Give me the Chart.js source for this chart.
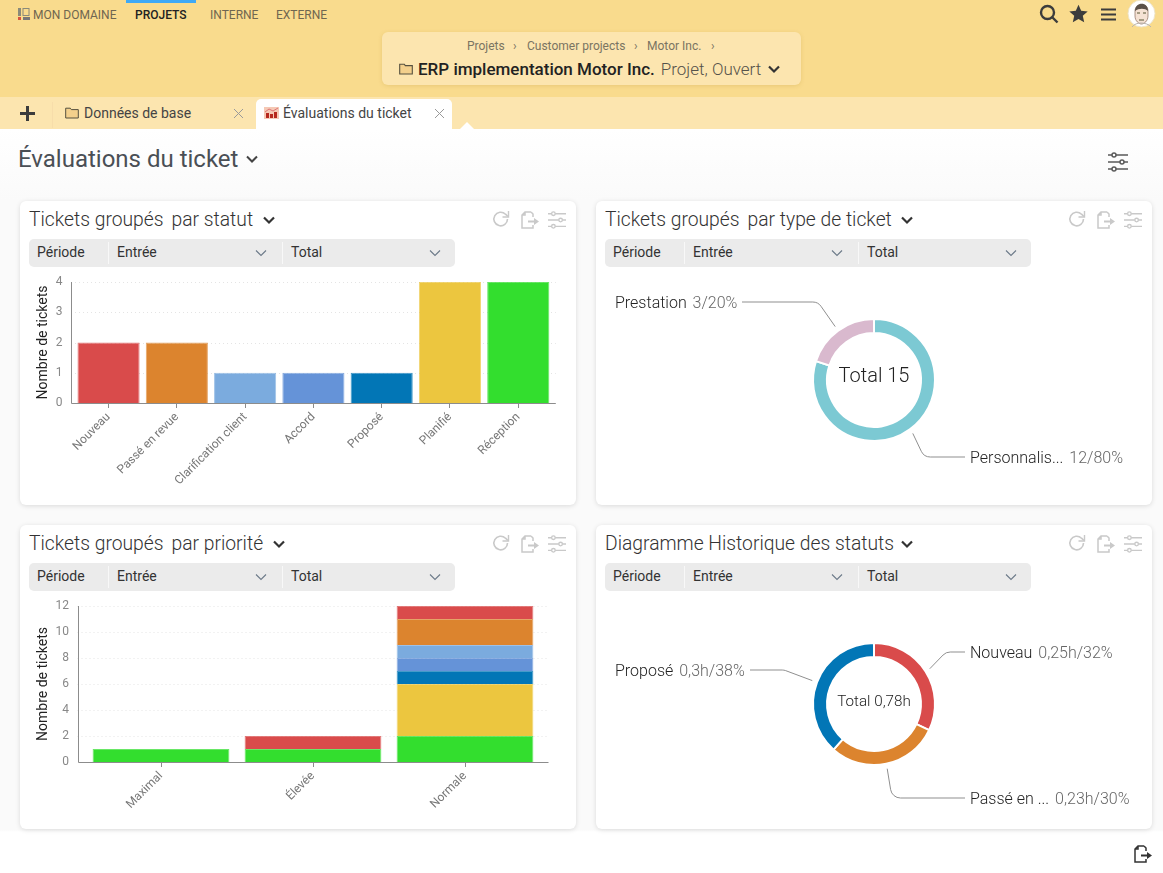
<!DOCTYPE html>
<html lang="fr">
<head>
<meta charset="utf-8">
<title>Évaluations du ticket</title>
<script src="https://cdn.jsdelivr.net/npm/chart.js@4"></script>
<style>
html,body{margin:0;padding:0;background:#fff;overflow:hidden}
#page{position:relative;width:1163px;height:873px;overflow:hidden;font-family:Roboto,sans-serif;color:#333;
  background:linear-gradient(#fff 129px,#fafafa 200px,#fafafa 830px,#fff 832px)}
#page div,#page span.abs,#page svg,#page canvas{position:absolute}
.top{left:0;top:0;width:1163px;height:97px;background:#f9db8d}
.tabs{left:0;top:97px;width:1163px;height:32px;background:#fce5af}
.nav{top:8px;font-size:12px;line-height:15px;color:#6f6650;white-space:nowrap}
.navbar{left:126px;top:0;width:70px;height:3px;background:#3fa9f5}
.crumbbox{left:382px;top:32px;width:419px;height:53px;background:#fce5af;border-radius:6px;box-shadow:0 1px 4px rgba(160,120,30,.18)}
.crumb{top:39px;font-size:12px;line-height:15px;color:#7a7462;white-space:nowrap}
.proj{left:418px;top:59px;font-size:17px;line-height:20px;font-weight:500;color:#222;white-space:nowrap}
.proj span{font-weight:300;font-size:17px;color:#55524a;margin-left:6px}
.tab{top:99px;height:30px;font-size:14px;line-height:28px;color:#444;white-space:nowrap}
.tabon{left:256px;top:99px;width:196px;height:30px;background:#fff;border-radius:5px 5px 0 0}
.head{left:18px;top:144px;font-size:24px;line-height:30px;color:#4a4f55;white-space:nowrap}
.card{width:556px;height:304px;background:#fff;border-radius:6px;box-shadow:0 1px 5px rgba(0,0,0,.13)}
.ctitle{left:9px;top:8px;font-size:19.3px;line-height:22px;font-weight:300;color:#333;white-space:nowrap}
.ctitle span{margin-left:8px}
.filter{left:9px;top:38px;width:426px;height:28px;background:#ebebeb;border-radius:5px}
.filter b{position:absolute;top:0;font-weight:400;font-size:14px;line-height:27px;color:#333}
.filter i{position:absolute;top:3px;width:1px;height:22px;background:#f8f8f8}
.call{font-size:16px;line-height:18px;color:#222;white-space:nowrap;font-weight:300}
.call span{color:#666;margin-left:2px}
.mid{transform:translate(-50%,-50%);color:#222;white-space:nowrap;font-weight:300}
</style>
</head>
<body>
<div id="page"></div>
<script>
// status chart
const statusLabels = ['Nouveau', 'Passé en revue', 'Clarification client', 'Accord', 'Proposé', 'Planifié', 'Réception'];
const statusCounts = [2, 2, 1, 1, 1, 4, 4];
const statusColors = ['#d94b4b', '#dc842e', '#7babde', '#6593d8', '#0276b6', '#ecc63f', '#33de2e'];

// ticket type donut
const typeLabels = ['Personnalis...', 'Prestation'];
const typeCounts = [12, 3];
const typeShares = [80, 20];
const typeColors = ['#7cc9d3', '#d9b9ce'];

// priority stack, one array per status
const priorityLabels = ['Maximal', 'Élevée', 'Normale'];
const prioNouveau = [0, 1, 1];
const prioRevue = [0, 0, 2];
const prioClarif = [0, 0, 1];
const prioAccord = [0, 0, 1];
const prioPropose = [0, 0, 1];
const prioPlanifie = [0, 0, 4];
const prioReception = [1, 1, 2];

// status history donut
const historyLabels = ['Nouveau', 'Passé en ...', 'Proposé'];
const historyHours = [0.25, 0.23, 0.3];
const historyShares = [32, 30, 38];
const historyColors = ['#d94b4b', '#dc842e', '#0276b6'];

const page = document.getElementById('page');
const ICON = '#c9c9c9';

function add(html) {
  page.insertAdjacentHTML('beforeend', html);
}
function chevron(x, y, color, w) {
  return `<svg style="left:${x}px;top:${y}px" width="14" height="9" viewBox="0 0 14 9"><path d="M2 1.5l5 5 5-5" fill="none" stroke="${color}" stroke-width="${w}"/></svg>`;
}
function sliders(x, y, color, s) {
  return `<svg style="left:${x}px;top:${y}px" width="${s}" height="${s}" viewBox="0 0 20 20" fill="none" stroke="${color}" stroke-width="1.5">
    <path d="M0 3h4M8 3h12M0 10h12M16 10h4M0 17h4M8 17h12"/><circle cx="6" cy="3" r="2"/><circle cx="14" cy="10" r="2"/><circle cx="6" cy="17" r="2"/></svg>`;
}
function exportIcon(x, y, color) {
  return `<svg style="left:${x}px;top:${y}px" width="20" height="18" viewBox="0 0 20 18" fill="none" stroke="${color}" stroke-width="1.5">
    <path d="M11 1H5L2 4v13h11v-3M2 4h3V1M11 1l2 2v3"/><path d="M8 9.5h6V7l5 3.5-5 3.5v-2.5H8z" fill="${color}" stroke="none"/></svg>`;
}

// page chrome
add(`<div class="top"></div><div class="tabs"></div><div class="navbar"></div>`);
add(`<svg style="left:18px;top:8px" width="12" height="13" viewBox="0 0 12 13"><rect x="0" y="0" width="3" height="8" fill="#8a8a7a"/><rect x="5" y="0.5" width="6" height="7" fill="none" stroke="#8a8a7a"/><rect x="0" y="9" width="3" height="3" fill="#d9533f"/><rect x="5" y="9" width="7" height="3" fill="#777"/></svg>`);
add(`<div class="nav" style="left:33px">MON DOMAINE</div>
<div class="nav" style="left:135px;color:#222;font-weight:500">PROJETS</div>
<div class="nav" style="left:210px">INTERNE</div>
<div class="nav" style="left:276px">EXTERNE</div>`);
add(`<svg style="left:1039px;top:4px" width="20" height="20" viewBox="0 0 20 20" fill="none" stroke="#3c3c3c" stroke-width="2.4"><circle cx="8.5" cy="8.5" r="6.5"/><path d="M13 13l5.5 5.5"/></svg>
<svg style="left:1069px;top:4px" width="19" height="19" viewBox="0 0 24 24"><path d="M12 1l3.4 7.6 8.2.8-6.2 5.5 1.8 8.1L12 18.8 4.8 23l1.8-8.1L.4 9.4l8.2-.8z" fill="#3c3c3c"/></svg>
<svg style="left:1101px;top:8px" width="15" height="13" viewBox="0 0 15 13"><path d="M0 1.5h15M0 6.5h15M0 11.5h15" stroke="#3c3c3c" stroke-width="2"/></svg>
<svg style="left:1127px;top:-1px" width="29" height="29" viewBox="0 0 29 29"><circle cx="14.5" cy="14.5" r="13.5" fill="#fff" stroke="#eee4c8"/><path d="M8 12c0-8 13-9 13 0v5c0 5-4 8-6.5 8S8 22 8 17z" fill="#f5e2d4" stroke="#8a6a5a" stroke-width=".7"/><path d="M8 12c0-9 13-10 13 0-3-3-9-3-13 0z" fill="#5a5048"/><path d="M10 14h3M16 14h3M12 21h5" stroke="#553" stroke-width="1"/><path d="M5 28c2-3 6-4 9-4s8 1 10 4" fill="none" stroke="#b9b4b0"/></svg>`);
add(`<div class="crumbbox"></div>
<div class="crumb" style="left:467px">Projets</div><div class="crumb" style="left:513px">›</div>
<div class="crumb" style="left:527px">Customer projects</div><div class="crumb" style="left:634px">›</div>
<div class="crumb" style="left:647px">Motor Inc.</div><div class="crumb" style="left:711px">›</div>
<svg style="left:399px;top:63px" width="14" height="12" viewBox="0 0 14 12"><path d="M.7 11V1.2h4.6l1 1.4h7V11z" fill="#f3d08c" stroke="#55503f" stroke-width="1.1"/></svg>
<div class="proj">ERP implementation Motor Inc.<span>Projet, Ouvert</span></div>` + chevron(767, 65, '#333', 2.2));
add(`<svg style="left:20px;top:106px" width="15" height="15" viewBox="0 0 15 15"><path d="M7.5 0v15M0 7.5h15" stroke="#3c3c3c" stroke-width="3"/></svg>
<div style="left:52px;top:102px;width:1px;height:26px;background:#f7ddaa"></div>
<svg style="left:65px;top:107px" width="14" height="12" viewBox="0 0 14 12"><path d="M.7 11V1.2h4.6l1 1.4h7V11z" fill="#f3d08c" stroke="#55503f"/></svg>
<div class="tab" style="left:84px">Données de base</div>
<svg style="left:233px;top:108px" width="11" height="11" viewBox="0 0 11 11"><path d="M1 1l9 9M10 1l-9 9" stroke="#999" stroke-width="1"/></svg>
<div class="tabon"></div>
<svg style="left:264px;top:107px" width="15" height="12" viewBox="0 0 15 12"><rect width="15" height="12" fill="#f5c9b5"/><rect x="2" y="6" width="3" height="5" fill="#b5281e"/><rect x="6" y="7" width="3" height="4" fill="#b5281e"/><rect x="10" y="5" width="3" height="6" fill="#b5281e"/><path d="M1 5l4-3 4 2 5-3" stroke="#d77" fill="none"/></svg>
<div class="tab" style="left:283px">Évaluations du ticket</div>
<svg style="left:434px;top:108px" width="11" height="11" viewBox="0 0 11 11"><path d="M1 1l9 9M10 1l-9 9" stroke="#999" stroke-width="1"/></svg>
<svg style="left:460px;top:122px" width="14" height="7" viewBox="0 0 14 7"><path d="M0 7l7-7 7 7z" fill="#fff"/></svg>
<div class="head">Évaluations du ticket</div>` + chevron(245, 155, '#444', 2) + sliders(1108, 152, '#5a5a5a', 20) + exportIcon(1133, 845, '#333'));

// four cards with header row and filter bar
const cards = [
  { x: 20, y: 201, t1: 'Tickets groupés', t2: 'par statut', chev: 242 },
  { x: 596, y: 201, t1: 'Tickets groupés', t2: 'par type de ticket', chev: 304 },
  { x: 20, y: 525, t1: 'Tickets groupés', t2: 'par priorité', chev: 252 },
  { x: 596, y: 525, t1: 'Diagramme Historique des statuts', t2: '', chev: 304 }
];
cards.forEach(c => {
  add(`<div class="card" style="left:${c.x}px;top:${c.y}px">
    <div class="ctitle">${c.t1}${c.t2 ? '<span>' + c.t2 + '</span>' : ''}</div>` +
    chevron(c.chev, 15, '#333', 2.2) +
    `<svg style="left:472px;top:9px" width="18" height="18" viewBox="0 0 18 18" fill="none" stroke="${ICON}" stroke-width="1.6"><path d="M15.5 9a6.8 6.8 0 1 1-2-4.8L16 6.5"/><path d="M16.5 1v6h-6" stroke-width="1.4"/></svg>` +
    exportIcon(500, 10, ICON) + sliders(528, 10, ICON, 18) +
    `<div class="filter"><b style="left:8px">Période</b><i style="left:79px"></i><b style="left:88px">Entrée</b>` +
    chevron(225, 10, '#6c7a89', 1.1) + `<i style="left:253px"></i><b style="left:262px">Total</b>` +
    chevron(399, 10, '#6c7a89', 1.1) + `</div></div>`);
});

function addCanvas(id, x, y, w, h) {
  add(`<canvas id="${id}" width="${w}" height="${h}" style="left:${x}px;top:${y}px;width:${w}px;height:${h}px"></canvas>`);
  return document.getElementById(id);
}

// the axes stick out a bit past the outer bars, so grid and axis lines are drawn here
const axisFrame = {
  id: 'axisFrame',
  beforeDatasetsDraw(chart, args, opts) {
    const { ctx, chartArea, scales } = chart;
    ctx.save();
    ctx.strokeStyle = '#e4e4e4';
    ctx.setLineDash([1, 3]);
    scales.y.ticks.forEach(t => {
      if (t.value === 0) return;
      const py = Math.round(scales.y.getPixelForValue(t.value)) + 0.5;
      ctx.beginPath();
      ctx.moveTo(chartArea.left - opts.extend, py);
      ctx.lineTo(chartArea.right + opts.extend, py);
      ctx.stroke();
    });
    ctx.restore();
  },
  afterDatasetsDraw(chart, args, opts) {
    const { ctx, chartArea } = chart;
    const x0 = Math.round(chartArea.left - opts.extend) + 0.5;
    ctx.save();
    ctx.strokeStyle = '#8c8c8c';
    ctx.beginPath();
    ctx.moveTo(x0, chartArea.top);
    ctx.lineTo(x0, chartArea.bottom + 0.5);
    ctx.lineTo(chartArea.right + opts.extend, chartArea.bottom + 0.5);
    ctx.stroke();
    ctx.restore();
  }
};

function barOptions(yMax, yStep, yWidth, xHeight, padRight, extend, tickPad) {
  return {
    responsive: false,
    animation: false,
    layout: { padding: { top: 12, right: padRight, bottom: 0, left: 0 } },
    plugins: { legend: { display: false }, tooltip: { enabled: false }, axisFrame: { extend: extend } },
    scales: {
      x: {
        stacked: true,
        border: { display: false },
        grid: { offset: false, drawOnChartArea: false, drawTicks: true, tickLength: 5, tickColor: '#8c8c8c' },
        ticks: { autoSkip: false, minRotation: 45, maxRotation: 45, padding: 2, color: '#777', font: { family: 'Roboto', size: 12 } },
        afterFit: s => { s.height = xHeight; s.paddingLeft = 0; s.paddingRight = 0; }
      },
      y: {
        stacked: true,
        min: 0,
        max: yMax,
        border: { display: false },
        grid: { display: false },
        ticks: { stepSize: yStep, padding: tickPad, color: '#888', font: { family: 'Roboto', size: 12 } },
        title: { display: true, text: 'Nombre de tickets', color: '#222', padding: { top: 15, bottom: 0 }, font: { family: 'Roboto', size: 14 } },
        afterFit: s => { s.width = yWidth; s.paddingTop = 0; s.paddingBottom = 0; }
      }
    }
  };
}

new Chart(addCanvas('statusChart', 20, 270, 556, 220), {
  type: 'bar',
  data: {
    labels: statusLabels,
    datasets: [{
      data: statusCounts,
      backgroundColor: statusColors,
      borderColor: statusColors.map(c => c + 'bb'),
      borderWidth: 1,
      barPercentage: 0.91,
      categoryPercentage: 1
    }]
  },
  options: barOptions(4, 1, 54.4, 87, 23.6, 3.4, 4),
  plugins: [axisFrame]
});

// bottom to top, colours follow statusColors
const stackOrder = [
  [prioReception, 6], [prioPlanifie, 5], [prioPropose, 4], [prioAccord, 3], [prioClarif, 2], [prioRevue, 1], [prioNouveau, 0]
];
new Chart(addCanvas('priorityChart', 20, 594, 556, 220), {
  type: 'bar',
  data: {
    labels: priorityLabels,
    datasets: stackOrder.map(([values, idx]) => ({
      data: values,
      backgroundColor: statusColors[idx],
      borderColor: statusColors[idx] + 'bb',
      borderWidth: 1,
      barPercentage: 0.9,
      categoryPercentage: 1
    }))
  },
  options: barOptions(12, 2, 65, 52, 35, 7.5, 8),
  plugins: [axisFrame]
});

// leader lines from the middle of each slice to its label
const leaderLines = {
  id: 'leaderLines',
  afterDatasetsDraw(chart, args, opts) {
    const { ctx } = chart;
    ctx.save();
    ctx.strokeStyle = '#8f8f8f';
    chart.getDatasetMeta(0).data.forEach((arc, i) => {
      const mid = (arc.startAngle + arc.endAngle) / 2;
      const r = arc.outerRadius + 5;
      const leg = opts.legs[i];
      ctx.beginPath();
      ctx.moveTo(arc.x + r * Math.cos(mid), arc.y + r * Math.sin(mid));
      ctx.arcTo(leg.x, leg.y, leg.end, leg.y, 10);
      ctx.lineTo(leg.end, leg.y);
      ctx.stroke();
    });
    ctx.restore();
  }
};

function donut(id, x, y, values, colors, legs) {
  return new Chart(addCanvas(id, x, y, 556, 220), {
    type: 'doughnut',
    data: { datasets: [{ data: values, backgroundColor: colors, borderColor: '#fff', borderWidth: 2, radius: 61 }] },
    options: {
      responsive: false,
      animation: false,
      cutout: '77%',
      plugins: { legend: { display: false }, tooltip: { enabled: false }, leaderLines: { legs: legs } }
    },
    plugins: [leaderLines]
  });
}

// leg positions are relative to each canvas
donut('typeChart', 596, 270, typeCounts, typeColors, [
  { x: 328, y: 187, end: 369 },
  { x: 222, y: 32, end: 146 }
]);
donut('historyChart', 596, 594, historyHours, historyColors, [
  { x: 350, y: 58, end: 369 },
  { x: 296, y: 204, end: 369 },
  { x: 188, y: 76, end: 154 }
]);

const comma = v => String(v).replace('.', ',');
function callout(x, y, name, detail) {
  add(`<div class="call" style="left:${x}px;top:${y - 8}px">${name} <span>${detail}</span></div>`);
}
callout(970, 457, typeLabels[0], `${typeCounts[0]}/${typeShares[0]}%`);
callout(615, 302, typeLabels[1], `${typeCounts[1]}/${typeShares[1]}%`);
callout(970, 652, historyLabels[0], `${comma(historyHours[0])}h/${historyShares[0]}%`);
callout(970, 798, historyLabels[1], `${comma(historyHours[1])}h/${historyShares[1]}%`);
callout(615, 670, historyLabels[2], `${comma(historyHours[2])}h/${historyShares[2]}%`);

const typeTotal = typeCounts.reduce((a, b) => a + b, 0);
const historyTotal = historyHours.reduce((a, b) => a + b, 0);
add(`<div class="mid" style="left:874px;top:375px;font-size:20px">Total ${typeTotal}</div>`);
add(`<div class="mid" style="left:874px;top:701px;font-size:15.2px">Total ${comma(historyTotal.toFixed(2))}h</div>`);
</script>
</body>
</html>
